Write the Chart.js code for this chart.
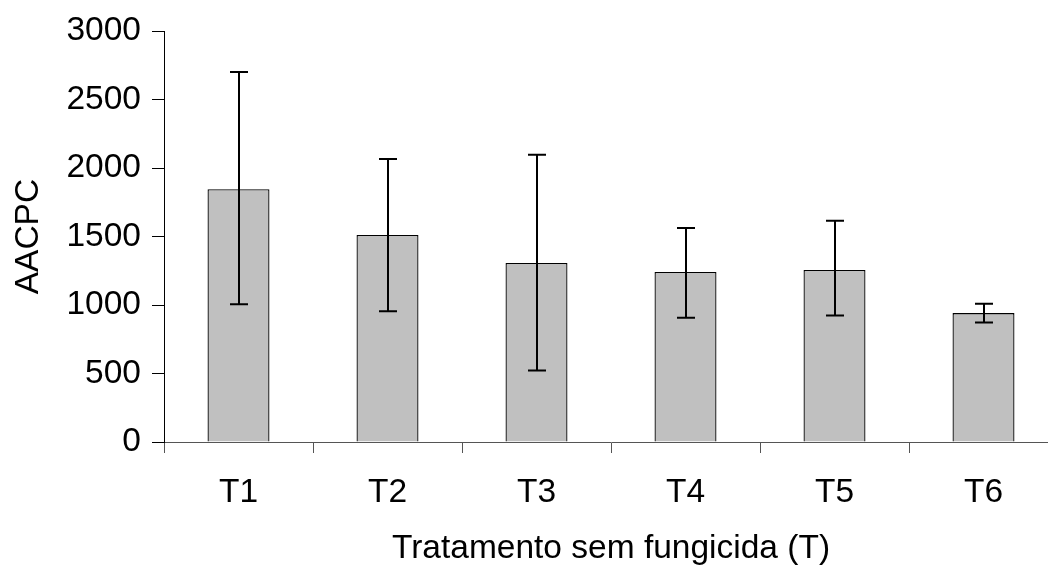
<!DOCTYPE html>
<html>
<head>
<meta charset="utf-8">
<script src="https://cdn.jsdelivr.net/npm/chart.js@4"></script>
<style>
html,body{margin:0;padding:0;background:#fff;overflow:hidden;}
#wrap{width:1060px;height:569px;position:relative;}
</style>
</head>
<body>
<div id="wrap"><canvas id="c" width="1060" height="569"></canvas></div>
<script>
const categories = ["T1","T2","T3","T4","T5","T6"];
const means = [1846, 1511, 1307, 1242, 1256, 941];
const upperLimits = [2702, 2066, 2098, 1562, 1615, 1009];
const lowerLimits = [1006, 955, 522, 907, 924, 873];
const yTicks = [0, 500, 1000, 1500, 2000, 2500, 3000];

const FONT = "'Liberation Sans', Arial, sans-serif";
const FS = 33.5;

const errorBars = {
  id: 'errorBars',
  afterDatasetsDraw(chart) {
    const ctx = chart.ctx;
    const meta = chart.getDatasetMeta(0);
    const y = chart.scales.y;
    ctx.save();
    ctx.strokeStyle = '#000';
    ctx.lineWidth = 2;
    meta.data.forEach((bar, i) => {
      const x = Math.round(bar.x);
      const yt = y.getPixelForValue(upperLimits[i]);
      const yb = y.getPixelForValue(lowerLimits[i]);
      const cap = 9;
      ctx.beginPath();
      ctx.moveTo(x, yt); ctx.lineTo(x, yb);
      ctx.moveTo(x - cap, yt); ctx.lineTo(x + cap, yt);
      ctx.moveTo(x - cap, yb); ctx.lineTo(x + cap, yb);
      ctx.stroke();
    });
    ctx.restore();
  }
};

new Chart(document.getElementById('c'), {
  type: 'bar',
  data: {
    labels: categories,
    datasets: [{
      data: means,
      backgroundColor: '#C0C0C0',
      borderColor: '#000',
      borderWidth: 1.3,
      barPercentage: 0.416,
      categoryPercentage: 1.0
    }]
  },
  options: {
    responsive: false,
    animation: false,
    layout: { padding: { left: 0, top: 23, right: 2, bottom: 0 } },
    plugins: { legend: { display: false }, tooltip: { enabled: false } },
    scales: {
      x: {
        grid: { display: true, drawOnChartArea: false, drawTicks: true, tickLength: 11, color: '#555', offset: true },
        border: { display: true, color: '#555', width: 1 },
        ticks: { color: '#000', font: { family: FONT, size: FS }, padding: 20 },
        title: { display: true, text: 'Tratamento sem fungicida (T)', color: '#000', font: { family: FONT, size: FS }, padding: { top: 2, bottom: 0 } },
        afterFit(s) { s.height = 569 - 442; }
      },
      y: {
        min: 0, max: 3000,
        afterBuildTicks(s) { s.ticks = yTicks.map(v => ({ value: v })); },
        grid: { display: true, drawOnChartArea: false, drawTicks: true, tickLength: 12, color: '#000' },
        border: { display: true, color: '#000', width: 1 },
        ticks: { color: '#000', font: { family: FONT, size: FS }, padding: 11, callback: v => String(v) },
        title: { display: true, text: 'AACPC', color: '#000', font: { family: FONT, size: FS }, padding: { top: 9, bottom: 0 } },
        afterFit(s) { s.width = 164; }
      }
    }
  },
  plugins: [errorBars]
});
</script>
</body>
</html>
